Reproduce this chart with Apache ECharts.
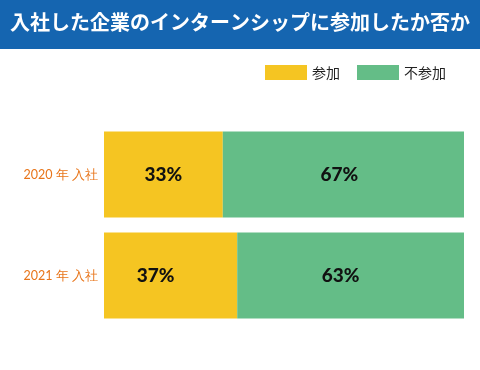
<!DOCTYPE html>
<html><head><meta charset="utf-8">
<script src="https://cdn.jsdelivr.net/npm/echarts@6/dist/echarts.min.js"></script>
<style>html,body{margin:0;padding:0;background:#fff}#c{width:480px;height:370px}</style>
</head><body><div id="c"></div>
<script>
const categories = ['2020 年 入社', '2021 年 入社'];
const joined = [33, 37];
const notJoined = [67, 63];
const seriesNames = ['参加', '不参加'];
const joinedOffsets = [[0, 0], [-15, 0]];
const notJoinedOffsets = [[-4, 0], [-10, 0]];

const chart = echarts.init(document.getElementById('c'));
const font = '"Noto Sans CJK JP", "Noto Sans", sans-serif';
const numFont = 'Lato, "Noto Sans", sans-serif';
function mk(vals, offs) {
  return vals.map((v, i) => ({ value: v, label: { offset: offs[i] } }));
}
const lbl = { show: true, position: 'inside', formatter: '{c}%', color: '#111', fontSize: 19, fontWeight: 900, fontFamily: numFont };
chart.setOption({
  animation: false,
  textStyle: { fontFamily: font },
  graphic: [
    { type: 'rect', left: 0, top: 0, shape: { width: 480, height: 49 }, style: { fill: '#1565b0' }, z: 0 },
    { type: 'text', left: 10, top: 12, style: { text: '入社した企業のインターンシップに参加したか否か', fill: '#fff', font: 'bold 20px ' + font }, z: 1 }
  ],
  legend: {
    left: 265, top: 65, padding: 0, itemWidth: 42, itemHeight: 15, itemGap: 17,
    icon: 'rect',
    textStyle: { fontSize: 14, color: '#222', fontFamily: font },
    data: seriesNames
  },
  grid: { left: 104, right: 16, top: 124, height: 202, containLabel: false },
  xAxis: { type: 'value', min: 0, max: 100, show: false },
  yAxis: {
    type: 'category', data: categories, inverse: true,
    axisLine: { show: false }, axisTick: { show: false },
    axisLabel: { color: '#e8751a', fontSize: 12.5, margin: 6, fontFamily: numFont }
  },
  series: [
    { name: seriesNames[0], type: 'bar', stack: 't', barWidth: 86, data: mk(joined, joinedOffsets),
      itemStyle: { color: '#f5c522' }, label: lbl },
    { name: seriesNames[1], type: 'bar', stack: 't', barWidth: 86, data: mk(notJoined, notJoinedOffsets),
      itemStyle: { color: '#64bd87' }, label: lbl }
  ]
});
</script></body></html>
